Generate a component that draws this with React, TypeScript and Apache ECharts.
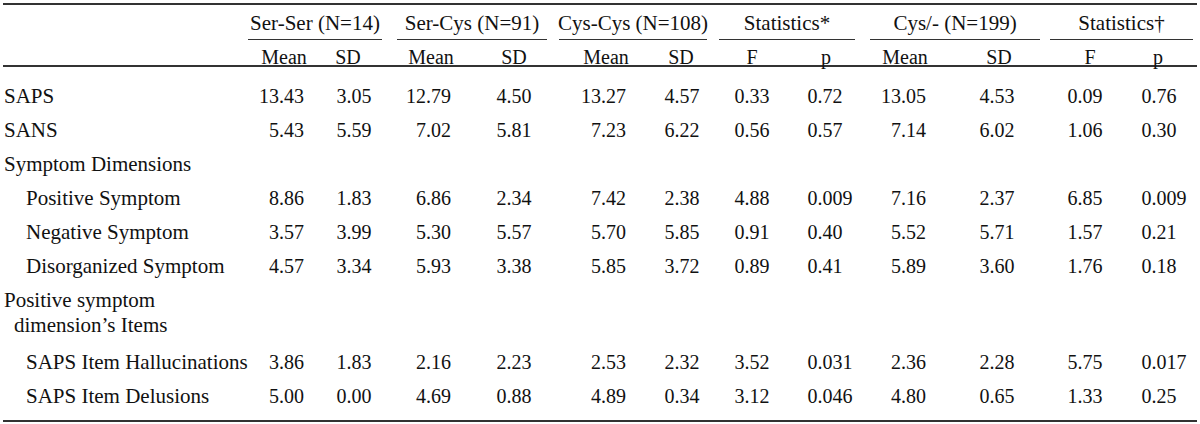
import React, { useEffect, useRef } from 'react';
import * as echarts from 'echarts';

// ---------- data ----------
const groupHeaders = ['Ser-Ser (N=14)', 'Ser-Cys (N=91)', 'Cys-Cys (N=108)', 'Statistics*', 'Cys/- (N=199)', 'Statistics†'];
const subHeaders = ['Mean', 'SD', 'Mean', 'SD', 'Mean', 'SD', 'F', 'p', 'Mean', 'SD', 'F', 'p'];
const rowLabels = [
  ['SAPS'],
  ['SANS'],
  ['Symptom Dimensions'],
  ['Positive Symptom'],
  ['Negative Symptom'],
  ['Disorganized Symptom'],
  ['Positive symptom', 'dimension’s Items'],
  ['SAPS Item Hallucinations'],
  ['SAPS Item Delusions'],
];
const rowIndent = [0, 0, 0, 2, 2, 2, 0, 2, 2];

const serSerMean = ['13.43', '5.43', null, '8.86', '3.57', '4.57', null, '3.86', '5.00'];
const serSerSD = ['3.05', '5.59', null, '1.83', '3.99', '3.34', null, '1.83', '0.00'];
const serCysMean = ['12.79', '7.02', null, '6.86', '5.30', '5.93', null, '2.16', '4.69'];
const serCysSD = ['4.50', '5.81', null, '2.34', '5.57', '3.38', null, '2.23', '0.88'];
const cysCysMean = ['13.27', '7.23', null, '7.42', '5.70', '5.85', null, '2.53', '4.89'];
const cysCysSD = ['4.57', '6.22', null, '2.38', '5.85', '3.72', null, '2.32', '0.34'];
const stat1F = ['0.33', '0.56', null, '4.88', '0.91', '0.89', null, '3.52', '3.12'];
const stat1P = ['0.72', '0.57', null, '0.009', '0.40', '0.41', null, '0.031', '0.046'];
const cysMean = ['13.05', '7.14', null, '7.16', '5.52', '5.89', null, '2.36', '4.80'];
const cysSD = ['4.53', '6.02', null, '2.37', '5.71', '3.60', null, '2.28', '0.65'];
const stat2F = ['0.09', '1.06', null, '6.85', '1.57', '1.76', null, '5.75', '1.33'];
const stat2P = ['0.76', '0.30', null, '0.009', '0.21', '0.18', null, '0.017', '0.25'];

const columns = [serSerMean, serSerSD, serCysMean, serCysSD, cysCysMean, cysCysSD, stat1F, stat1P, cysMean, cysSD, stat2F, stat2P];

// ---------- layout ----------
const W = 1200;
const H = 424;
const FAMILY = '"Liberation Serif", "Times New Roman", serif';
const FONT_NUM = `20px ${FAMILY}`;
const FONT_LABEL = `21px ${FAMILY}`;
const TEXT = '#111111';
const LINE = '#333333';

const groupSpans = [
  [248, 382], [397, 547], [559, 707], [719, 855], [870, 1040], [1050, 1193],
];
const subCenters = [284, 348, 431, 514, 606, 681, 752, 826, 905, 999, 1090, 1158];
const dotX = [279, 346.5, 426, 506.5, 601, 674.5, 744.5, 817.5, 901, 989.5, 1077.5, 1151.5];
const rowY = [96, 130, 164, 198, 232, 266, 300, 362, 396];
const subLineGap = 25;

const measureCanvas = typeof document !== 'undefined' ? document.createElement('canvas') : null;
function textWidth(s: string, font: string): number {
  const ctx = measureCanvas ? measureCanvas.getContext('2d') : null;
  if (!ctx) return s.length * 10;
  ctx.font = font;
  return ctx.measureText(s).width;
}

function txt(text: string, x: number, y: number, align: string, font: string) {
  return {
    type: 'text',
    x,
    y,
    silent: true,
    style: {
      text,
      font,
      fill: TEXT,
      textAlign: align,
      textVerticalAlign: 'middle',
    },
  };
}

function hline(x1: number, x2: number, y: number, w: number) {
  return {
    type: 'line',
    silent: true,
    shape: { x1, y1: y, x2, y2: y },
    style: { stroke: LINE, lineWidth: w },
  };
}

export default function App() {
  const ref = useRef<HTMLDivElement>(null);

  useEffect(() => {
    if (!ref.current) return;
    const chart = echarts.init(ref.current, null, { renderer: 'svg', width: W, height: H });
    const elements: any[] = [];

    // rules
    elements.push(hline(3, 1197, 4, 2));
    elements.push(hline(3, 1197, 66, 2));
    elements.push(hline(3, 1197, 421, 2));
    groupSpans.forEach(([a, b]) => elements.push(hline(a, b, 39.5, 1)));

    // headers
    groupHeaders.forEach((g, i) => {
      const [a, b] = groupSpans[i];
      elements.push(txt(g, (a + b) / 2, 23, 'center', FONT_LABEL));
    });
    subHeaders.forEach((s, i) => elements.push(txt(s, subCenters[i], 57, 'center', FONT_NUM)));

    // row labels
    rowLabels.forEach((lines, r) => {
      lines.forEach((l, k) => {
        const indent = k > 0 ? 10 : rowIndent[r] * 11;
        elements.push(txt(l, 4 + indent, rowY[r] + k * subLineGap, 'left', FONT_LABEL));
      });
    });

    // values, aligned on the decimal point
    columns.forEach((col, c) => {
      col.forEach((v, r) => {
        if (v == null) return;
        const intPart = v.split('.')[0];
        const x = dotX[c] - textWidth(intPart, FONT_NUM);
        elements.push(txt(v, x, rowY[r], 'left', FONT_NUM));
      });
    });

    chart.setOption({
      animation: false,
      backgroundColor: '#ffffff',
      graphic: { elements },
    });

    return () => chart.dispose();
  }, []);

  return (
    <div
      ref={ref}
      style={{ position: 'fixed', left: 0, top: 0, width: W, height: H, background: '#fff' }}
    />
  );
}
